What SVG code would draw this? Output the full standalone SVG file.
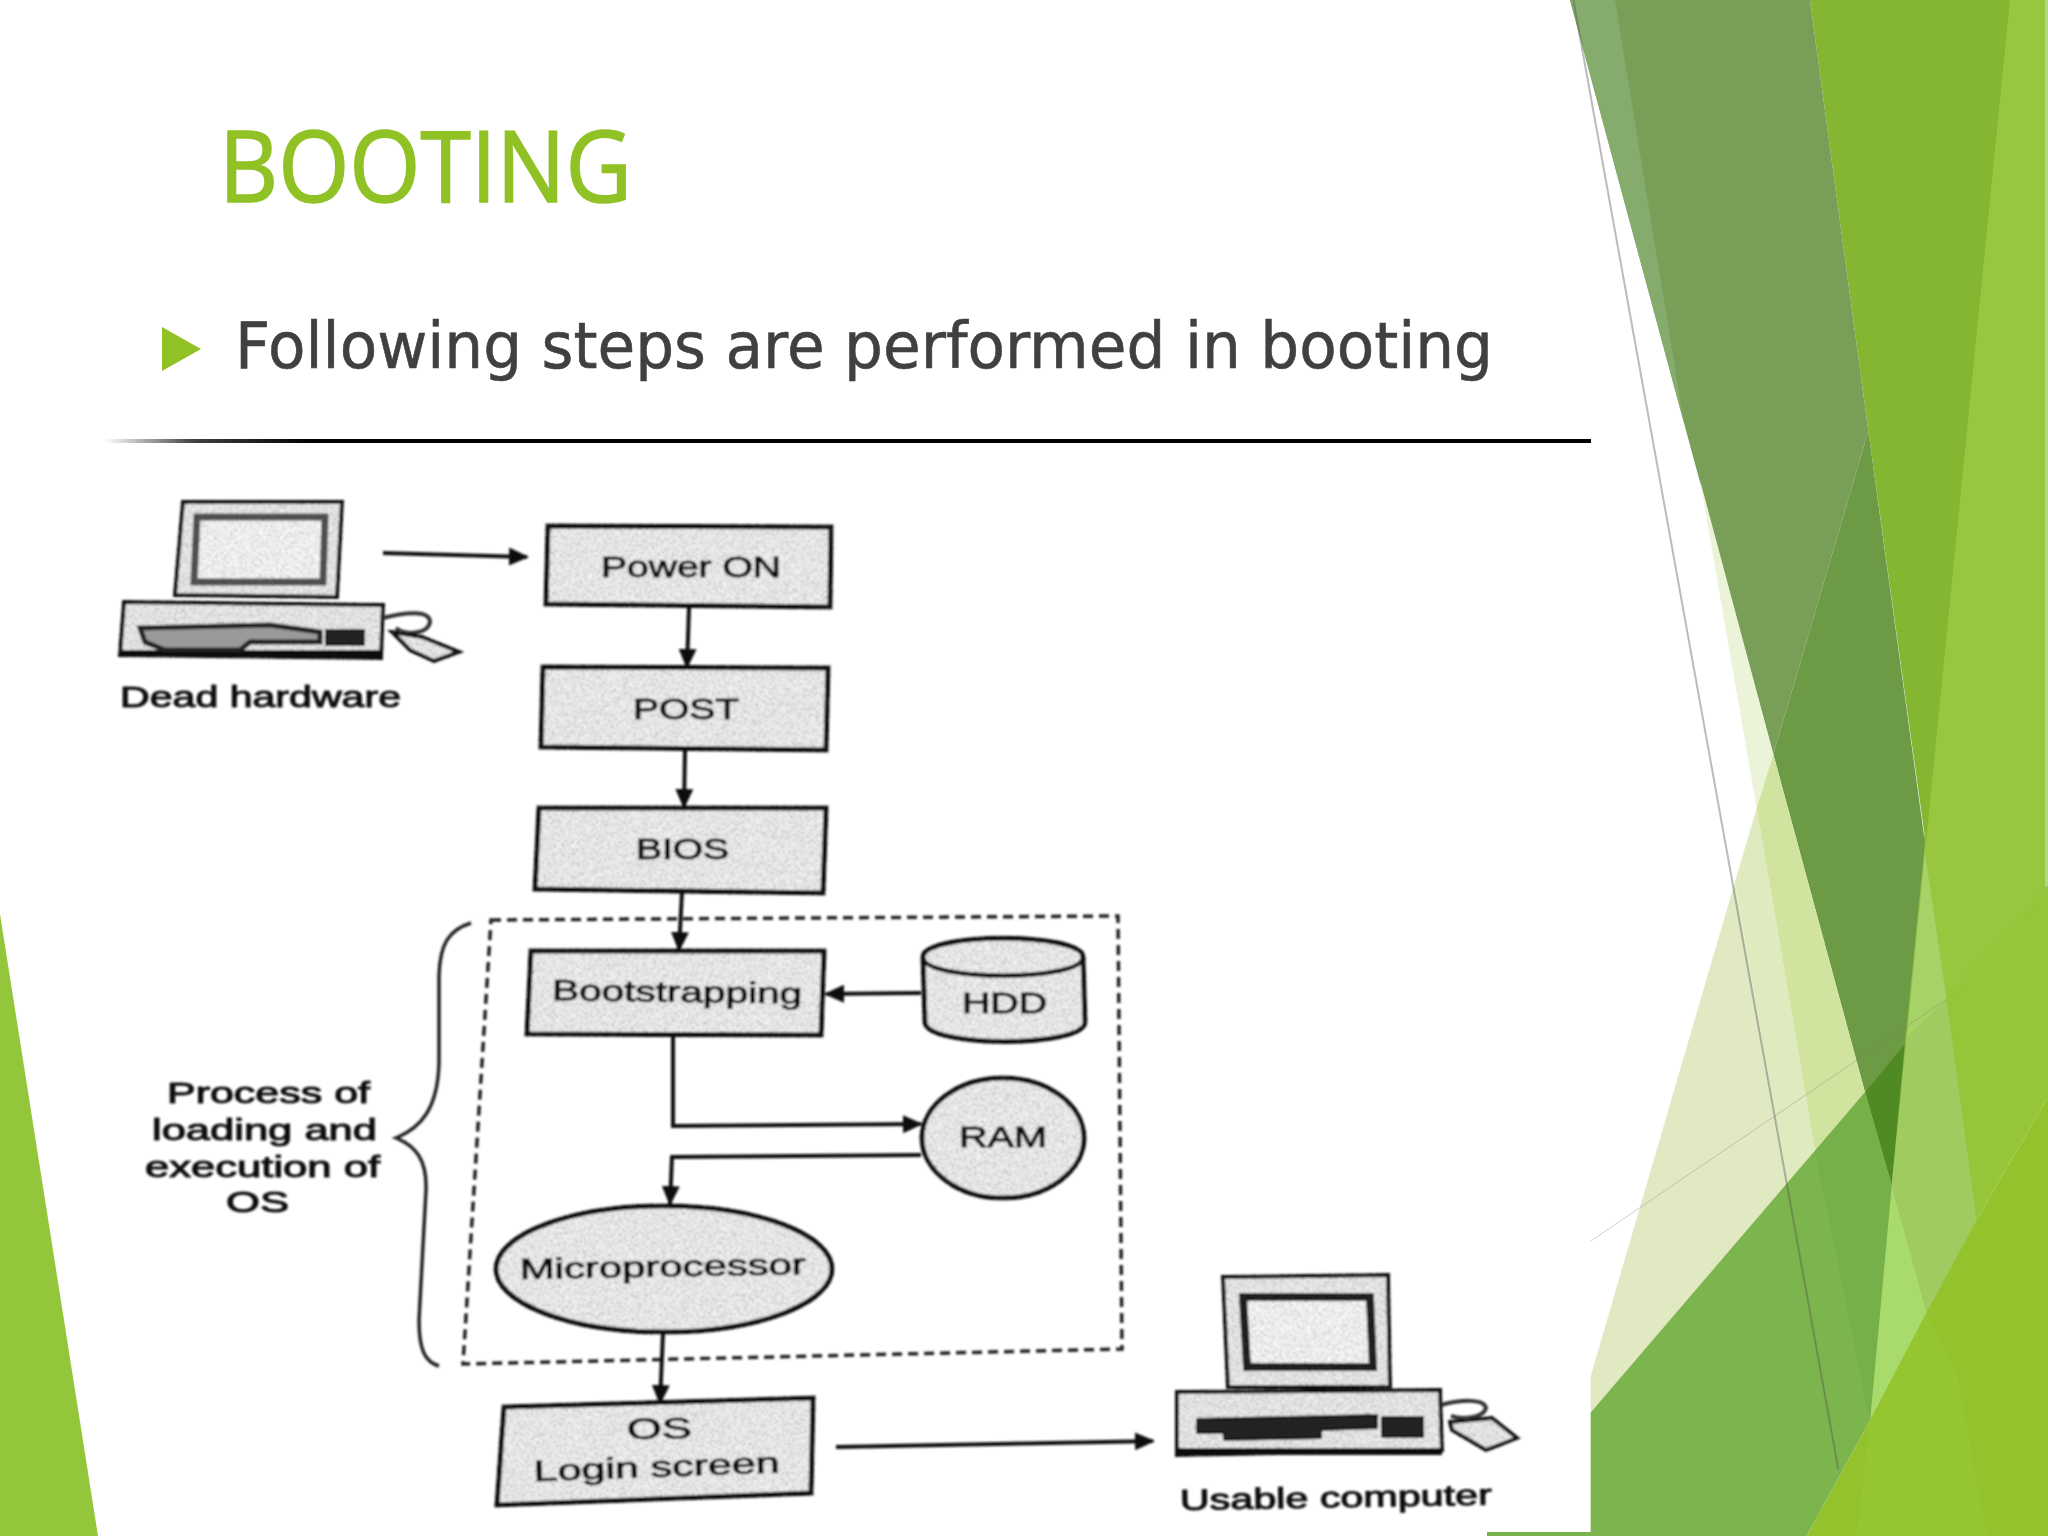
<svg xmlns="http://www.w3.org/2000/svg" width="2048" height="1536" viewBox="0 0 2048 1536">
<defs>
<linearGradient id="rule" x1="0" x2="1" y1="0" y2="0">
<stop offset="0" stop-color="#000" stop-opacity="0"/>
<stop offset=".06" stop-color="#000" stop-opacity=".75"/>
<stop offset=".14" stop-color="#000"/>
</linearGradient>
<filter id="scan" x="-2%" y="-2%" width="104%" height="104%"><feGaussianBlur stdDeviation="0.8"/></filter>
<filter id="noise" x="-6%" y="-6%" width="112%" height="112%">
<feTurbulence type="fractalNoise" baseFrequency=".55" numOctaves="2" seed="7" result="n"/>
<feColorMatrix in="n" type="matrix" values="0 0 0 0 .55  0 0 0 0 .55  0 0 0 0 .55  7 0 0 0 -3.5" result="speck"/>
<feComposite in="speck" in2="SourceAlpha" operator="in" result="cut"/>
<feBlend in="SourceGraphic" in2="cut" mode="multiply"/>
</filter>
<marker id="ah" viewBox="0 0 10 10" refX="9" refY="5" markerWidth="20" markerHeight="20" markerUnits="userSpaceOnUse" orient="auto"><path d="M0 0.5L10 5L0 9.5z" fill="#111"/></marker>
<style>
.t{font-family:"Liberation Sans",Arial,sans-serif;fill:#111;font-size:29px;stroke:#111;stroke-width:1px}
.box{fill:#f2f2f2;stroke:#111;stroke-width:5px;stroke-linejoin:miter;filter:url(#noise)}
.c{fill:none;stroke:#111;stroke-width:4px;marker-end:url(#ah)}
.pc{fill:#eeeeee;stroke:#111;stroke-width:4px;filter:url(#noise)}
.dark{fill:#222;stroke:#111;stroke-width:2px}
.screen{fill:#fafafa;filter:url(#noise)}
.facet{vector-effect:non-scaling-stroke}
</style>
</defs>
<rect width="2048" height="1536" fill="#fff"/>

<g id="background-right" transform="translate(1560 0) scale(.33333 .97959)">
<polygon points="915,1115 1095,850 1464,905 1250,1245 930,1450 995,1210" fill="#8fbf45"/>
<polygon points="750,0 1365,0 1105,880 925,440" fill="#85b632"/>
<polygon points="1350,0 1464,0 1464,905 1160,1020 1095,870" fill="#98c73f"/>
<polygon points="1455,0 1464,0 1464,905 1455,905" fill="#b4d785"/>
<polygon points="30,0 750,0 925,440 640,770" fill="#799e57"/>
<polygon points="30,0 165,0 372,432" fill="#85ac6c"/>
<polygon points="640,770 925,440 1095,860 1035,1065 915,1115" fill="#6c9a45"/>
<polygon points="915,1115 1035,1065 995,1210" fill="#4f8a22"/>
<polygon points="1095,870 1160,1020 1040,1060" fill="#a7d268"/>
<polygon points="1040,1060 1160,1020 1250,1245 1100,1340 995,1210" fill="#9fcb60"/>
<polygon points="995,1210 1100,1340 930,1450" fill="#a9da6c"/>
<polygon points="1160,1020 1464,905 1464,1120 1250,1245" fill="#96c539"/>
<polygon points="92,1405 525,900 680,1210 92,1442" fill="#e0e9c2"/>
<polygon points="420,490 640,770 590,825" fill="#ebf3d9"/>
<polygon points="525,900 590,825 765,1175 680,1210" fill="#dfeabf"/>
<polygon points="590,825 640,770 915,1115 765,1175" fill="#d0e4a0"/>
<polygon points="92,1442 915,1115 995,1210 930,1450 740,1568 92,1568" fill="#7cb44e"/>
<polygon points="765,1175 915,1115 995,1210 930,1450 920,1435" fill="#76b049"/>
<polygon points="740,1568 930,1450 1100,1340 1250,1245 1464,1120 1464,1568" fill="#93c22c"/>
<polygon points="930,1450 1100,1340 1190,1400 1280,1568 890,1568" fill="#95c631"/>
<line class="facet" x1="40" y1="0" x2="835" y2="1500" stroke="#555" stroke-opacity=".4" stroke-width="2"/>
<line class="facet" x1="92" y1="1267" x2="1160" y2="1020" stroke="#777" stroke-opacity=".35" stroke-width="1"/>
</g>
<rect x="1487" y="1532" width="104" height="4" fill="#7ab24d"/>
<polygon id="background-left" points="0,914 98,1536 0,1536" fill="#93c63b"/>

<text id="title" x="219" y="202" font-family="'Open Sans','Noto Sans',sans-serif" font-size="98" fill="#90c226" stroke="#90c226" stroke-width="1.6" textLength="413" lengthAdjust="spacingAndGlyphs">BOOTING</text>
<polygon id="bullet" points="162,327 201,349 162,371" fill="#90c226"/>
<text id="bullet-text" x="235" y="368" font-family="'DejaVu Sans','Noto Sans',sans-serif" font-size="64" fill="#404040" stroke="#404040" stroke-width=".6" textLength="1258" lengthAdjust="spacingAndGlyphs">Following steps are performed in booting</text>
<rect x="105" y="439" width="1486" height="4" fill="url(#rule)"/>

<g filter="url(#scan)">
<g id="dead-hardware">
<polygon class="pc" points="183,502 342,502 337,597 175,595"/>
<polygon class="screen" points="197,517 325,517 323,582 194,582" stroke="#555" stroke-width="7"/>
<polygon class="pc" points="124,602 383,605 381,658 120,655"/>
<rect x="120" y="650" width="261" height="7" fill="#111"/>
<polygon points="140,628 270,625 320,632 320,642 250,642 240,650 165,650 145,642" fill="#9a9a9a" stroke="#222" stroke-width="5"/>
<rect class="dark" x="326" y="630" width="38" height="15"/>
<path d="M383 618C405 612 430 610 430 622C428 634 405 636 396 628" fill="none" stroke="#333" stroke-width="4"/>
<polygon class="pc" points="392,632 422,637 459,652 434,661 410,650"/>
<text class="t" x="120" y="707" textLength="281" lengthAdjust="spacingAndGlyphs">Dead hardware</text>
</g>
<g id="power-on"><polygon class="box" points="548,526 831,527 830,607 546,604"/><text class="t" x="601" y="577" textLength="180" lengthAdjust="spacingAndGlyphs">Power ON</text></g>
<g id="post"><polygon class="box" points="543,667 828,668 826,750 541,747"/><text class="t" x="633" y="719" textLength="106" lengthAdjust="spacingAndGlyphs">POST</text></g>
<g id="bios"><polygon class="box" points="539,808 826,808 823,893 535,889"/><text class="t" x="636" y="859" textLength="93" lengthAdjust="spacingAndGlyphs">BIOS</text></g>
<g id="process-boundary"><polygon points="491,920 1118,916 1122,1349 463,1364" fill="none" stroke="#222" stroke-width="3.5" stroke-dasharray="10 6"/></g>
<g id="brace">
<path d="M471 923C448 930 440 945 439 975L439 1062C438 1110 420 1128 396 1138C416 1146 427 1160 426 1190L419 1320C419 1350 425 1362 439 1366" fill="none" stroke="#222" stroke-width="3.5"/>
<text class="t" x="167" y="1103" textLength="203" lengthAdjust="spacingAndGlyphs">Process of</text>
<text class="t" x="152" y="1140" textLength="225" lengthAdjust="spacingAndGlyphs">loading and</text>
<text class="t" x="145" y="1177" textLength="235" lengthAdjust="spacingAndGlyphs">execution of</text>
<text class="t" x="226" y="1212" textLength="63" lengthAdjust="spacingAndGlyphs">OS</text>
</g>
<g id="bootstrapping"><polygon class="box" points="531,951 824,951 821,1035 527,1034"/><text class="t" x="552" y="1000" textLength="250" lengthAdjust="spacingAndGlyphs" transform="rotate(.8 552 1000)">Bootstrapping</text></g>
<g id="hdd">
<path class="box" d="M923 957C923 932 1083 932 1083 957L1085 1022C1085 1048 925 1048 925 1022Z"/>
<path d="M923 957C923 982 1083 982 1083 957" fill="none" stroke="#111" stroke-width="4.5"/>
<text class="t" x="962" y="1013" textLength="85" lengthAdjust="spacingAndGlyphs">HDD</text>
</g>
<g id="ram"><ellipse class="box" cx="1003" cy="1138" rx="81" ry="60"/><text class="t" x="959" y="1147" textLength="88" lengthAdjust="spacingAndGlyphs">RAM</text></g>
<g id="microprocessor"><ellipse class="box" cx="664" cy="1269" rx="168" ry="63"/><text class="t" x="520" y="1279" textLength="286" lengthAdjust="spacingAndGlyphs" transform="rotate(-1 520 1279)">Microprocessor</text></g>
<g id="os-login"><polygon class="box" points="504,1407 813,1398 811,1493 497,1505"/>
<text class="t" x="627" y="1439" textLength="65" lengthAdjust="spacingAndGlyphs" transform="rotate(-1 627 1439)">OS</text>
<text class="t" x="534" y="1481" textLength="246" lengthAdjust="spacingAndGlyphs" transform="rotate(-2 534 1481)">Login screen</text></g>
<g id="usable-computer">
<polygon class="pc" points="1223,1277 1388,1275 1390,1387 1228,1387"/>
<polygon class="screen" points="1243,1297 1370,1297 1373,1367 1247,1367" stroke="#222" stroke-width="8"/>
<polygon class="pc" points="1177,1392 1440,1390 1442,1450 1177,1455"/>
<rect x="1177" y="1448" width="265" height="7" fill="#111"/>
<polygon class="dark" points="1197,1419 1377,1415 1377,1428 1321,1430 1321,1438 1224,1440 1224,1433 1197,1433"/>
<rect class="dark" x="1382" y="1417" width="41" height="20"/>
<path d="M1441 1405C1460 1400 1484 1398 1486 1408C1484 1418 1462 1420 1451 1416" fill="none" stroke="#333" stroke-width="4"/>
<polygon class="pc" points="1450,1422 1492,1418 1517,1438 1486,1450 1452,1430"/>
<text class="t" x="1180" y="1510" textLength="312" lengthAdjust="spacingAndGlyphs" transform="rotate(-1 1180 1510)">Usable computer</text>
</g>
<g id="connectors">
<line class="c" x1="383" y1="553" x2="527" y2="557"/>
<line class="c" x1="689" y1="608" x2="687" y2="667"/>
<line class="c" x1="685" y1="750" x2="684" y2="807"/>
<line class="c" x1="682" y1="892" x2="679" y2="950"/>
<line class="c" x1="921" y1="993" x2="826" y2="994"/>
<polyline class="c" points="673,1036 673,1126 921,1124"/>
<polyline class="c" points="921,1155 672,1157 670,1204"/>
<line class="c" x1="663" y1="1333" x2="660" y2="1403"/>
<line class="c" x1="836" y1="1447" x2="1153" y2="1441"/>
</g>
</g>
</svg>
